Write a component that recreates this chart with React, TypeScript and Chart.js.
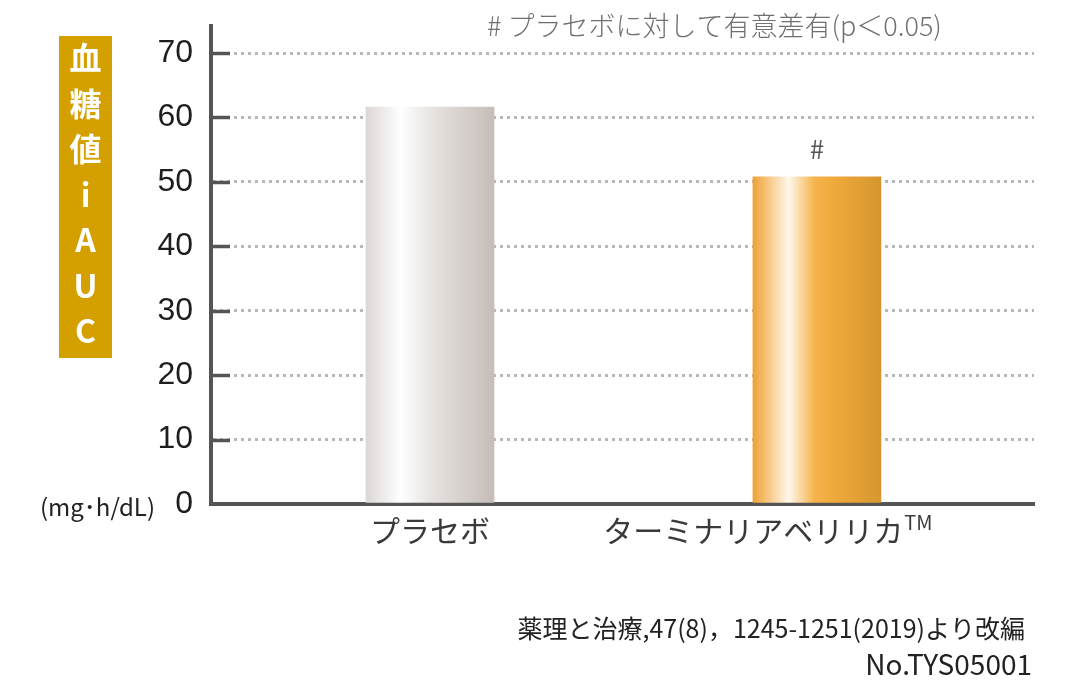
import React, { useEffect, useRef } from "react";
import { Chart, registerables } from "chart.js";

Chart.register(...registerables);

// ---- data ----
const categories = ["プラセボ", "ターミナリアベリリカ"];
const categorySuperscripts = ["", "TM"];
const values = [61.6, 50.8];
const significanceMarks = ["", "#"];
const yTickValues = [0, 10, 20, 30, 40, 50, 60, 70];
const yAxisTitleChars = ["血", "糖", "値", "i", "A", "U", "C"];
const unitLabel = "(mg･h/dL)";
const noteText = "# プラセボに対して有意差有(p＜0.05)";
const sourceText = "薬理と治療,47(8)，1245-1251(2019)より改編";
const codeText = "No.TYS05001";

// ---- styles ----
const JP = '"Noto Sans CJK JP", "Noto Sans", sans-serif';
const NUM = '"Liberation Sans", Arial, sans-serif';
const BAR_WIDTH = 128;
const barGradients: [number, string][][] = [
  [
    [0, "#dcd7d4"],
    [0.27, "#ffffff"],
    [0.5, "#e8e4e1"],
    [1, "#c6bdb8"],
  ],
  [
    [0, "#efa234"],
    [0.28, "#fff8ec"],
    [0.48, "#f5b44c"],
    [0.62, "#f0aa3c"],
    [1, "#d6962f"],
  ],
];
const labelShift = [0, -49];

const decorPlugin = {
  id: "decor",
  afterDraw(chart: any) {
    const { ctx, chartArea, scales } = chart;
    const xs = scales.x;
    const ys = scales.y;
    ctx.save();

    // short solid tick stubs inside the axis
    ctx.strokeStyle = "#555555";
    ctx.lineWidth = 3.5;
    yTickValues.forEach((v) => {
      if (v === 0) return;
      const y = Math.round(ys.getPixelForValue(v)) + 0.5;
      ctx.beginPath();
      ctx.moveTo(chartArea.left, y);
      ctx.lineTo(chartArea.left + 19, y);
      ctx.stroke();
    });

    // y-axis title box
    ctx.fillStyle = "#d3a000";
    ctx.fillRect(59, 36, 53, 322);
    ctx.fillStyle = "#ffffff";
    ctx.font = `bold 32px ${JP}`;
    ctx.textAlign = "center";
    ctx.textBaseline = "middle";
    yAxisTitleChars.forEach((c, i) => {
      ctx.fillText(c, 85.5, 58 + i * 45.5);
    });

    // unit
    ctx.fillStyle = "#222222";
    ctx.font = `24px ${JP}`;
    ctx.textAlign = "right";
    ctx.fillText(unitLabel, 155, 507);

    // category labels
    categories.forEach((cat, i) => {
      const cx = xs.getPixelForValue(i + 1) + labelShift[i];
      ctx.font = `30px ${JP}`;
      const w = ctx.measureText(cat).width;
      ctx.font = `20px ${JP}`;
      const sup = categorySuperscripts[i];
      const sw = sup ? ctx.measureText(sup).width + 1 : 0;
      const left = cx - (w + sw) / 2;
      ctx.fillStyle = "#3a3a3a";
      ctx.textAlign = "left";
      ctx.textBaseline = "middle";
      ctx.font = `30px ${JP}`;
      ctx.fillText(cat, left, 531);
      if (sup) {
        ctx.font = `20px ${JP}`;
        ctx.fillText(sup, left + w + 1, 522);
      }
    });

    // significance marks
    ctx.fillStyle = "#555555";
    ctx.font = `26px ${JP}`;
    ctx.textAlign = "center";
    ctx.textBaseline = "middle";
    significanceMarks.forEach((m, i) => {
      if (!m) return;
      const cx = xs.getPixelForValue(i + 1);
      const top = ys.getPixelForValue(values[i]);
      ctx.fillText(m, cx, top - 28);
    });

    // top note
    ctx.fillStyle = "#707070";
    ctx.font = `300 27px ${JP}`;
    ctx.textAlign = "left";
    ctx.fillText(noteText, 487, 26);

    // source
    ctx.fillStyle = "#222222";
    ctx.font = `25px ${JP}`;
    ctx.textAlign = "right";
    ctx.fillText(sourceText, 1025, 628);
    ctx.font = `28px ${JP}`;
    ctx.fillText(codeText, 1032, 664);

    ctx.restore();
  },
};

export default function App() {
  const ref = useRef<HTMLCanvasElement | null>(null);

  useEffect(() => {
    if (!ref.current) return;
    const chart = new Chart(ref.current, {
      type: "bar",
      data: {
        datasets: [
          {
            data: values.map((v, i) => ({ x: i + 1, y: v })),
            barThickness: BAR_WIDTH,
            borderWidth: 0,
            backgroundColor: (c: any) => {
              const ch = c.chart;
              const i = c.dataIndex;
              const stops = barGradients[i % barGradients.length];
              if (!ch.chartArea || !ch.scales.x) return stops[0][1];
              const cx = ch.scales.x.getPixelForValue(i + 1);
              const g = ch.ctx.createLinearGradient(cx - BAR_WIDTH / 2, 0, cx + BAR_WIDTH / 2, 0);
              stops.forEach(([o, col]) => g.addColorStop(o, col));
              return g;
            },
          },
        ],
      },
      options: {
        animation: false,
        responsive: false,
        layout: { padding: { top: 26, right: 46, left: 0, bottom: 0 } },
        plugins: { legend: { display: false }, tooltip: { enabled: false } },
        scales: {
          x: {
            type: "linear",
            offset: false,
            min: 0.434,
            max: 2.561,
            grid: { display: false, drawTicks: false, offset: false },
            border: { display: true, color: "#555555", width: 4 },
            ticks: { display: false, includeBounds: false },
            afterFit: (s: any) => {
              s.height = 176;
              s.paddingLeft = 0;
              s.paddingRight = 0;
            },
          },
          y: {
            min: 0,
            max: 74.2,
            grid: { color: "#b8b8b8", lineWidth: 3, drawTicks: false },
            border: { display: true, color: "#555555", width: 4, dash: [3, 4] },
            afterBuildTicks: (s: any) => {
              s.ticks = yTickValues.map((v) => ({ value: v }));
            },
            ticks: {
              padding: 18,
              color: "#1e1e1e",
              font: { family: NUM, size: 32 },
              callback: (v: any) => String(v),
            },
            afterFit: (s: any) => {
              s.width = 211;
              s.paddingTop = 0;
              s.paddingBottom = 0;
            },
          },
        },
      },
      plugins: [decorPlugin],
    } as any);
    return () => chart.destroy();
  }, []);

  return (
    <div style={{ position: "fixed", left: 0, top: 0, width: 1080, height: 680, background: "#fff" }}>
      <canvas ref={ref} width={1080} height={680} style={{ display: "block" }} />
    </div>
  );
}
